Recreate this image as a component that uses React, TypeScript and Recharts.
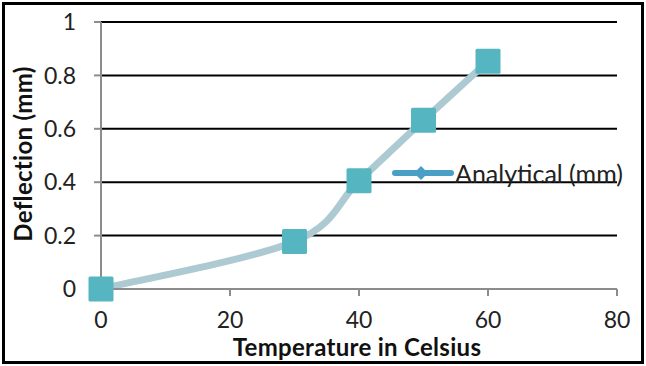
import React from "react";
import {
  LineChart,
  Line,
  XAxis,
  YAxis,
  CartesianGrid,
  Label,
} from "recharts";

const temperatures = [0, 30, 40, 50, 60];
const deflections = [0, 0.178, 0.405, 0.632, 0.853];
const xTicks = [0, 20, 40, 60, 80];
const yTicks = [0, 0.2, 0.4, 0.6, 0.8, 1];
const seriesName = "Analytical (mm)";
const xTitle = "Temperature in Celsius";
const yTitle = "Deflection (mm)";

const data = temperatures.map((t, i) => ({ t, v: deflections[i] }));

const FONT = "Lato, 'Open Sans', sans-serif";
const tickStyle = { fontSize: 23, fill: "#222", fontFamily: FONT };
const titleStyle = { fontFamily: FONT, fontWeight: 700, fontSize: 24, fill: "#111", letterSpacing: 0.3 };
const axisGrey = "#8c8c8c";

// Excel-style smoothed line (Catmull-Rom through the points, 1/6 control offsets)
function excelSmooth(context: any) {
  let pts: [number, number][] = [];
  return {
    areaStart() {},
    areaEnd() {},
    lineStart() {
      pts = [];
    },
    point(x: number, y: number) {
      pts.push([+x, +y]);
    },
    lineEnd() {
      if (!pts.length) return;
      context.moveTo(pts[0][0], pts[0][1]);
      for (let i = 0; i < pts.length - 1; i++) {
        const p0 = pts[Math.max(i - 1, 0)];
        const p1 = pts[i];
        const p2 = pts[i + 1];
        const p3 = pts[Math.min(i + 2, pts.length - 1)];
        context.bezierCurveTo(
          p1[0] + (p2[0] - p0[0]) / 6,
          p1[1] + (p2[1] - p0[1]) / 6,
          p2[0] - (p3[0] - p1[0]) / 6,
          p2[1] - (p3[1] - p1[1]) / 6,
          p2[0],
          p2[1]
        );
      }
    },
  };
}

function SquareDot({ cx, cy, index }: { cx?: number; cy?: number; index?: number }) {
  if (cx == null || cy == null) return null;
  return (
    <rect
      key={index}
      x={cx - 12.5}
      y={cy - 12.5}
      width={25}
      height={25}
      rx={1.5}
      fill="#55b6c2"
    />
  );
}

function LegendBox() {
  return (
    <div style={{ display: "flex", alignItems: "center", height: 28, fontFamily: FONT }}>
      <svg width={62} height={20}>
        <line x1={3} y1={10} x2={59} y2={10} stroke="#4a9fc7" strokeWidth={6} strokeLinecap="round" />
        <polygon points="29,3 36,10 29,17 22,10" fill="#4a9fc7" />
      </svg>
      <span style={{ fontSize: 25, color: "#222", marginLeft: 1, whiteSpace: "nowrap" }}>{seriesName}</span>
    </div>
  );
}

export default function App() {
  return (
    <div style={{ position: "fixed", left: 0, top: 0, width: 646, height: 366, background: "#fff" }}>
      <div
        style={{
          position: "absolute",
          left: 2,
          top: 2,
          width: 642,
          height: 362,
          border: "3px solid #000",
          boxSizing: "border-box",
        }}
      />
      <div style={{ position: "absolute", left: 0, top: 0 }}>
        <LineChart width={646} height={366} data={data} margin={{ top: 22, right: 29, bottom: 0, left: 0 }}>
          <CartesianGrid horizontal vertical={false} stroke="#000" strokeWidth={2} />
          <XAxis
            type="number"
            dataKey="t"
            domain={[0, 80]}
            ticks={xTicks}
            height={77}
            tick={tickStyle}
            tickSize={7}
            tickMargin={16}
            stroke={axisGrey}
            strokeWidth={2}
          >
            <Label
              content={() => (
                <text x={357} y={356} textAnchor="middle" style={titleStyle}>
                  {xTitle}
                </text>
              )}
            />
          </XAxis>
          <YAxis
            type="number"
            domain={[0, 1]}
            ticks={yTicks}
            width={101}
            tick={tickStyle}
            tickSize={7}
            tickMargin={18}
            stroke={axisGrey}
            strokeWidth={2}
          >
            <Label
              content={() => (
                <text
                  x={0}
                  y={0}
                  textAnchor="middle"
                  dominantBaseline="central"
                  transform="translate(22 154) rotate(-90)"
                  style={titleStyle}
                >
                  {yTitle}
                </text>
              )}
            />
          </YAxis>
          <Line
            type={excelSmooth as any}
            dataKey="v"
            name={seriesName}
            stroke="#adc9d2"
            strokeWidth={7}
            dot={(p: any) => <SquareDot {...p} />}
            activeDot={false}
            isAnimationActive={false}
          />
        </LineChart>
      </div>
      <div style={{ position: "absolute", left: 392, top: 159 }}>
        <LegendBox />
      </div>
    </div>
  );
}
